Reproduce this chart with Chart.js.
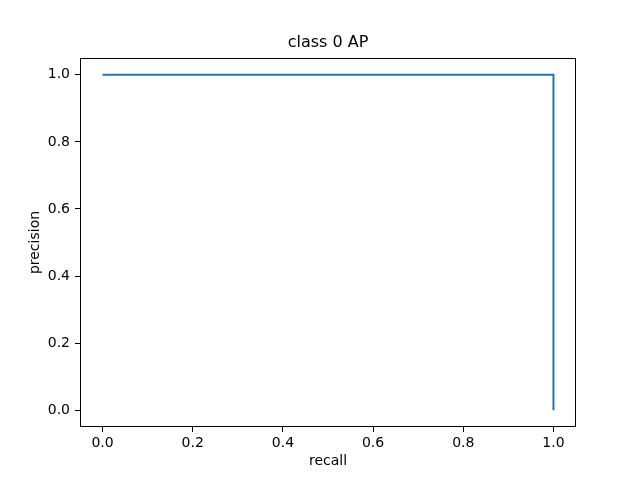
<!DOCTYPE html>
<html>
<head>
<meta charset="utf-8">
<script src="https://cdn.jsdelivr.net/npm/chart.js@4"></script>
<style>
html,body{margin:0;padding:0;background:#fff;}
#wrap{width:640px;height:480px;}
</style>
</head>
<body>
<div id="wrap"><canvas id="c" width="640" height="480"></canvas></div>
<script>
const recall = [0.0, 1.0, 1.0];
const precision = [1.0, 1.0, 0.0];
const xTicks = [0.0, 0.2, 0.4, 0.6, 0.8, 1.0];
const yTicks = [0.0, 0.2, 0.4, 0.6, 0.8, 1.0];
const titleText = 'class 0 AP';
const xLabel = 'recall';
const yLabel = 'precision';

Chart.defaults.color = '#000';
Chart.defaults.font.family = '"DejaVu Sans", sans-serif';

const points = recall.map((r, i) => ({x: r, y: precision[i]}));

const boxPlugin = {
  id: 'box',
  afterDraw(chart) {
    const a = chart.chartArea, ctx = chart.ctx;
    ctx.save();
    ctx.strokeStyle = '#000';
    ctx.lineWidth = 1;
    ctx.strokeRect(Math.round(a.left) + 0.5, Math.round(a.top) + 0.5,
      Math.round(a.right - a.left) - 1, Math.round(a.bottom - a.top) - 1);
    // title centred over the plot area
    ctx.fillStyle = '#000';
    ctx.font = '16px "DejaVu Sans", sans-serif';
    ctx.textAlign = 'center';
    ctx.textBaseline = 'middle';
    ctx.fillText(titleText, (a.left + a.right) / 2, 43);
    ctx.restore();
  }
};

new Chart(document.getElementById('c'), {
  type: 'scatter',
  data: {
    datasets: [{
      data: points,
      showLine: true,
      borderColor: '#1f77b4',
      backgroundColor: '#1f77b4',
      borderWidth: 2,
      pointRadius: 0,
      tension: 0,
      fill: false
    }]
  },
  options: {
    responsive: false,
    animation: false,
    layout: {padding: {left: 0, right: 64, top: 58, bottom: 0}},
    plugins: {
      legend: {display: false},
      tooltip: {enabled: false},
      title: {display: false}
    },
    scales: {
      x: {
        type: 'linear',
        min: -0.05,
        max: 1.05,
        afterBuildTicks(s) { s.ticks = xTicks.map(v => ({value: v})); },
        afterFit(s) { s.height = 53; },
        ticks: {
          font: {size: 14},
          padding: 3,
          maxRotation: 0,
          callback: v => v.toFixed(1)
        },
        grid: {drawOnChartArea: false, drawTicks: true, tickLength: 5, tickColor: '#000', tickWidth: 1},
        border: {display: false},
        title: {display: true, text: xLabel, font: {size: 14}, padding: {top: 10, bottom: 10}}
      },
      y: {
        type: 'linear',
        min: -0.05,
        max: 1.05,
        afterBuildTicks(s) { s.ticks = yTicks.map(v => ({value: v})); },
        afterFit(s) { s.width = 80; },
        ticks: {
          font: {size: 14},
          padding: 5,
          callback: v => v.toFixed(1)
        },
        grid: {drawOnChartArea: false, drawTicks: true, tickLength: 5, tickColor: '#000', tickWidth: 1},
        border: {display: false},
        title: {display: true, text: yLabel, font: {size: 14}, padding: {top: 27, bottom: 0}}
      }
    }
  },
  plugins: [boxPlugin]
});
</script>
</body>
</html>
